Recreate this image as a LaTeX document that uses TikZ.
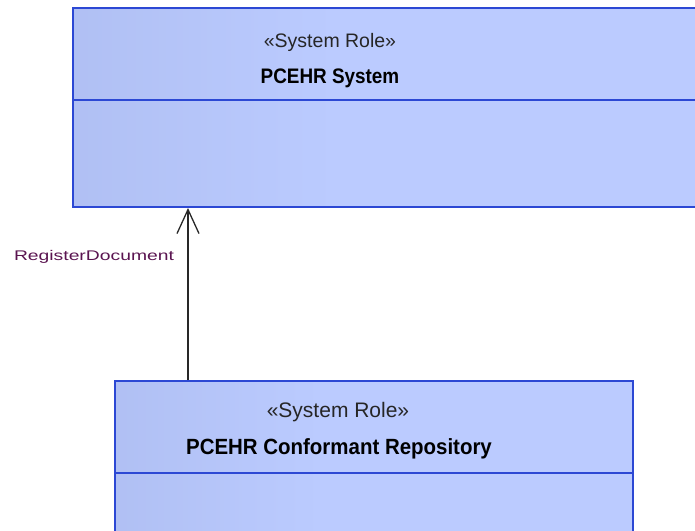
\documentclass[tikz,border=0pt]{standalone}
\usepackage{fontspec}
\setmainfont{Liberation Sans}
\usetikzlibrary{arrows.meta}
\definecolor{boxL}{RGB}{163,178,229}
\definecolor{boxR}{RGB}{187,203,255}
\definecolor{boxB}{RGB}{44,72,212}
\definecolor{lblC}{RGB}{90,20,80}
\definecolor{lineC}{RGB}{40,40,40}
\pgfdeclarehorizontalshading{boxshade}{100bp}{color(0bp)=(boxL); color(45bp)=(boxR); color(100bp)=(boxR)}
\tikzset{
  rolebox/.style={draw=boxB, line width=2pt, shading=boxshade, rectangle, inner sep=0pt, anchor=north west},
  divider/.style={draw=boxB, line width=2pt},
  stereo/.style={font=\fontsize{19.5}{22}\selectfont, text=black!85},
  rname/.style={font=\fontsize{21}{24}\selectfont\bfseries},
  assoc/.style={draw=lineC, line width=1.5pt, -{Straight Barb[length=24pt,width=22pt,line width=1.3pt]}},
  lbl/.style={text=lblC, font=\fontsize{14}{16}\selectfont}
}
\begin{document}
\begin{tikzpicture}[x=1pt,y=1pt]
\useasboundingbox (0,0) rectangle (695,-530);
\clip (0,0) rectangle (695,-530);
% top box
\node[rolebox, minimum width=660pt, minimum height=199pt] (sys) at (72,-7) {};
\coordinate (sysdiv) at (72,-100);
\draw[divider] (sysdiv) -- (sysdiv -| sys.east);
\node[stereo] (sysst) at (330,-42) {«System Role»};
\node[rname] (sysnm) at (330,-78) {\scalebox{0.9}[1]{PCEHR System}};
% bottom box
\node[rolebox, minimum width=518pt, minimum height=170pt] (repo) at (114,-380) {};
\coordinate (repodiv) at (114,-473);
\draw[divider] (repodiv) -- (repodiv -| repo.east);
\node[stereo, font=\fontsize{21}{24}\selectfont] (repost) at (338,-412) {«System Role»};
\node[rname, font=\fontsize{22}{24}\selectfont\bfseries] (reponm) at (339,-449) {\scalebox{0.93}[1]{PCEHR Conformant Repository}};
% connector
\coordinate (arrx) at (188,0);
\draw[assoc] (repo.north west -| arrx) -- (sys.south west -| arrx);
\node[lbl] (assoclbl) at (94,-257) {\scalebox{1.38}[1]{RegisterDocument}};
\end{tikzpicture}
\end{document}
